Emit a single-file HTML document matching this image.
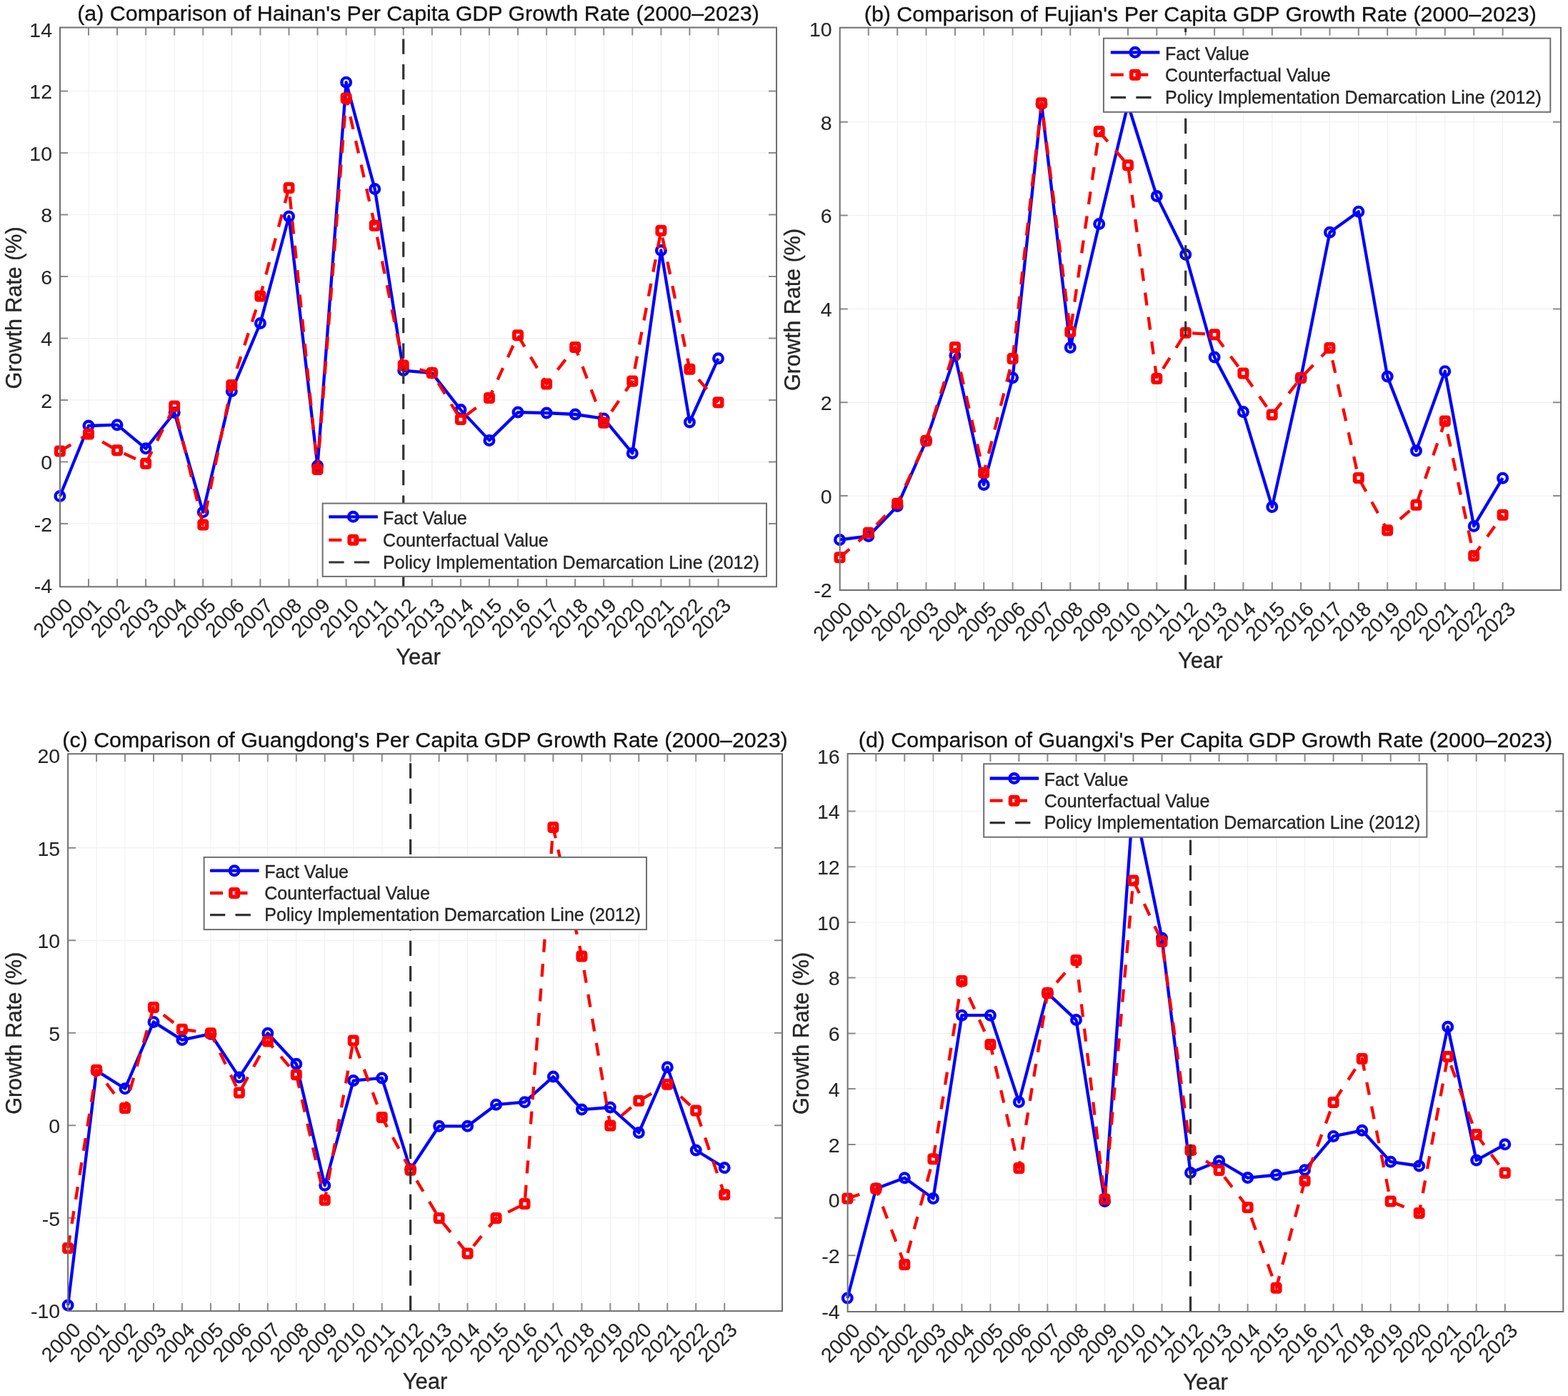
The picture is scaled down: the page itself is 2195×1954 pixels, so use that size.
<!DOCTYPE html>
<html><head><meta charset="utf-8"><title>Per Capita GDP Growth Rate Comparison</title>
<style>html,body{margin:0;padding:0;background:#fff;}svg{display:block;}text{font-family:"Liberation Sans", Arial, Helvetica, sans-serif;stroke:#262626;stroke-width:0.35px;}.tk text{stroke-width:0.1px;font-kerning:none;}</style></head>
<body><svg xmlns="http://www.w3.org/2000/svg" width="2195" height="1954" viewBox="0 0 2195 1954" font-family='"Liberation Sans", Arial, Helvetica, sans-serif'>
<rect width="2195" height="1954" fill="#ffffff"/>
<path d="M124 38.5V821.3M164 38.5V821.3M204.1 38.5V821.3M244.2 38.5V821.3M284.2 38.5V821.3M324.3 38.5V821.3M364.4 38.5V821.3M404.5 38.5V821.3M444.5 38.5V821.3M484.6 38.5V821.3M524.7 38.5V821.3M564.7 38.5V821.3M604.8 38.5V821.3M644.9 38.5V821.3M684.9 38.5V821.3M725 38.5V821.3M765.1 38.5V821.3M805.2 38.5V821.3M845.2 38.5V821.3M885.3 38.5V821.3M925.4 38.5V821.3M965.4 38.5V821.3M1005.5 38.5V821.3M84 732.9H1087M84 646.4H1087M84 559.9H1087M84 473.4H1087M84 386.9H1087M84 300.4H1087M84 213.9H1087M84 127.4H1087" stroke="#eeeeee" stroke-width="1.0" fill="none"/>
<path d="M124 821.3v-11M124 38.5v11M164 821.3v-11M164 38.5v11M204.1 821.3v-11M204.1 38.5v11M244.2 821.3v-11M244.2 38.5v11M284.2 821.3v-11M284.2 38.5v11M324.3 821.3v-11M324.3 38.5v11M364.4 821.3v-11M364.4 38.5v11M404.5 821.3v-11M404.5 38.5v11M444.5 821.3v-11M444.5 38.5v11M484.6 821.3v-11M484.6 38.5v11M524.7 821.3v-11M524.7 38.5v11M564.7 821.3v-11M564.7 38.5v11M604.8 821.3v-11M604.8 38.5v11M644.9 821.3v-11M644.9 38.5v11M684.9 821.3v-11M684.9 38.5v11M725 821.3v-11M725 38.5v11M765.1 821.3v-11M765.1 38.5v11M805.2 821.3v-11M805.2 38.5v11M845.2 821.3v-11M845.2 38.5v11M885.3 821.3v-11M885.3 38.5v11M925.4 821.3v-11M925.4 38.5v11M965.4 821.3v-11M965.4 38.5v11M1005.5 821.3v-11M1005.5 38.5v11M84 732.9h11M1087 732.9h-11M84 646.4h11M1087 646.4h-11M84 559.9h11M1087 559.9h-11M84 473.4h11M1087 473.4h-11M84 386.9h11M1087 386.9h-11M84 300.4h11M1087 300.4h-11M84 213.9h11M1087 213.9h-11M84 127.4h11M1087 127.4h-11" stroke="#8a8a8a" stroke-width="2.0" fill="none"/>
<polyline points="83.9,694.5 124,596 164,594.7 204.1,627.8 244.2,577.5 284.2,716.8 324.3,547.4 364.4,452.5 404.5,303 444.5,652 484.6,115.2 524.7,264.6 564.7,518.6 604.8,522.1 644.9,573.6 684.9,616.4 725,577.1 765.1,578 805.2,580 845.2,585.9 885.3,634.4 925.4,350.5 965.4,590.9 1005.5,501.8" stroke="#0000ff" stroke-width="4.3" fill="none" stroke-linejoin="round"/>
<g stroke="#0000ff" stroke-width="4.4" fill="none"><circle cx="83.9" cy="694.5" r="6.3"/><circle cx="124" cy="596" r="6.3"/><circle cx="164" cy="594.7" r="6.3"/><circle cx="204.1" cy="627.8" r="6.3"/><circle cx="244.2" cy="577.5" r="6.3"/><circle cx="284.2" cy="716.8" r="6.3"/><circle cx="324.3" cy="547.4" r="6.3"/><circle cx="364.4" cy="452.5" r="6.3"/><circle cx="404.5" cy="303" r="6.3"/><circle cx="444.5" cy="652" r="6.3"/><circle cx="484.6" cy="115.2" r="6.3"/><circle cx="524.7" cy="264.6" r="6.3"/><circle cx="564.7" cy="518.6" r="6.3"/><circle cx="604.8" cy="522.1" r="6.3"/><circle cx="644.9" cy="573.6" r="6.3"/><circle cx="684.9" cy="616.4" r="6.3"/><circle cx="725" cy="577.1" r="6.3"/><circle cx="765.1" cy="578" r="6.3"/><circle cx="805.2" cy="580" r="6.3"/><circle cx="845.2" cy="585.9" r="6.3"/><circle cx="885.3" cy="634.4" r="6.3"/><circle cx="925.4" cy="350.5" r="6.3"/><circle cx="965.4" cy="590.9" r="6.3"/><circle cx="1005.5" cy="501.8" r="6.3"/></g>
<polyline points="83.9,631.6 124,607.4 164,630.3 204.1,648.7 244.2,568.6 284.2,734.6 324.3,539.1 364.4,414.6 404.5,262.9 444.5,657 484.6,137.4 524.7,315.8 564.7,511.4 604.8,522 644.9,587.1 684.9,557.1 725,469.3 765.1,537.4 805.2,486 845.2,591.8 885.3,533.5 925.4,322.8 965.4,516.7 1005.5,563.2" stroke="#ff0000" stroke-width="4.3" stroke-dasharray="18,16.5" fill="none" stroke-linejoin="round"/>
<g stroke="#ff0000" stroke-width="5.6" stroke-linejoin="round" fill="none"><rect x="78.7" y="626.4" width="10.4" height="10.4" rx="1.5"/><rect x="118.8" y="602.2" width="10.4" height="10.4" rx="1.5"/><rect x="158.8" y="625.1" width="10.4" height="10.4" rx="1.5"/><rect x="198.9" y="643.5" width="10.4" height="10.4" rx="1.5"/><rect x="239" y="563.4" width="10.4" height="10.4" rx="1.5"/><rect x="279.1" y="729.4" width="10.4" height="10.4" rx="1.5"/><rect x="319.1" y="533.9" width="10.4" height="10.4" rx="1.5"/><rect x="359.2" y="409.4" width="10.4" height="10.4" rx="1.5"/><rect x="399.3" y="257.7" width="10.4" height="10.4" rx="1.5"/><rect x="439.3" y="651.8" width="10.4" height="10.4" rx="1.5"/><rect x="479.4" y="132.2" width="10.4" height="10.4" rx="1.5"/><rect x="519.5" y="310.6" width="10.4" height="10.4" rx="1.5"/><rect x="559.5" y="506.2" width="10.4" height="10.4" rx="1.5"/><rect x="599.6" y="516.8" width="10.4" height="10.4" rx="1.5"/><rect x="639.7" y="581.9" width="10.4" height="10.4" rx="1.5"/><rect x="679.7" y="551.9" width="10.4" height="10.4" rx="1.5"/><rect x="719.8" y="464.1" width="10.4" height="10.4" rx="1.5"/><rect x="759.9" y="532.2" width="10.4" height="10.4" rx="1.5"/><rect x="800" y="480.8" width="10.4" height="10.4" rx="1.5"/><rect x="840" y="586.6" width="10.4" height="10.4" rx="1.5"/><rect x="880.1" y="528.3" width="10.4" height="10.4" rx="1.5"/><rect x="920.2" y="317.6" width="10.4" height="10.4" rx="1.5"/><rect x="960.2" y="511.5" width="10.4" height="10.4" rx="1.5"/><rect x="1000.3" y="558" width="10.4" height="10.4" rx="1.5"/></g>
<path d="M564.7 821.3V38.5" stroke="#333333" stroke-width="3.2" stroke-dasharray="21.3,14.2" fill="none"/>
<rect x="84" y="38.5" width="1003" height="782.8" fill="none" stroke="#6f6f6f" stroke-width="2.0"/>
<g font-size="28.5" text-anchor="end" fill="#262626" class="tk"><text x="73" y="830.2">-4</text><text x="73" y="743.7">-2</text><text x="73" y="657.2">0</text><text x="73" y="570.7">2</text><text x="73" y="484.2">4</text><text x="73" y="397.7">6</text><text x="73" y="311.2">8</text><text x="73" y="224.7">10</text><text x="73" y="138.2">12</text><text x="73" y="51.7">14</text></g>
<g font-size="28.5" text-anchor="end" fill="#262626" class="tk"><text transform="translate(103.4,849.5) rotate(-45)">2000</text><text transform="translate(143.5,849.5) rotate(-45)">2001</text><text transform="translate(183.5,849.5) rotate(-45)">2002</text><text transform="translate(223.6,849.5) rotate(-45)">2003</text><text transform="translate(263.7,849.5) rotate(-45)">2004</text><text transform="translate(303.8,849.5) rotate(-45)">2005</text><text transform="translate(343.8,849.5) rotate(-45)">2006</text><text transform="translate(383.9,849.5) rotate(-45)">2007</text><text transform="translate(424,849.5) rotate(-45)">2008</text><text transform="translate(464,849.5) rotate(-45)">2009</text><text transform="translate(504.1,849.5) rotate(-45)">2010</text><text transform="translate(544.2,849.5) rotate(-45)">2011</text><text transform="translate(584.2,849.5) rotate(-45)">2012</text><text transform="translate(624.3,849.5) rotate(-45)">2013</text><text transform="translate(664.4,849.5) rotate(-45)">2014</text><text transform="translate(704.4,849.5) rotate(-45)">2015</text><text transform="translate(744.5,849.5) rotate(-45)">2016</text><text transform="translate(784.6,849.5) rotate(-45)">2017</text><text transform="translate(824.7,849.5) rotate(-45)">2018</text><text transform="translate(864.7,849.5) rotate(-45)">2019</text><text transform="translate(904.8,849.5) rotate(-45)">2020</text><text transform="translate(944.9,849.5) rotate(-45)">2021</text><text transform="translate(984.9,849.5) rotate(-45)">2022</text><text transform="translate(1025,849.5) rotate(-45)">2023</text></g>
<text x="585.5" y="930.1" font-size="31" text-anchor="middle" fill="#262626">Year</text>
<text transform="translate(30,430.9) rotate(-90)" font-size="30.5" text-anchor="middle" fill="#262626">Growth Rate (%)</text>
<text x="585.5" y="29.4" font-size="30.4" text-anchor="middle" fill="#111111">(a) Comparison of Hainan&#39;s Per Capita GDP Growth Rate (2000–2023)</text>
<rect x="451.6" y="704.6" width="621.4" height="102.3" fill="#ffffff" stroke="#6f6f6f" stroke-width="2.0"/>
<path d="M460.3 723.3H528.9" stroke="#0000ff" stroke-width="4.3"/>
<circle cx="494.4" cy="723.3" r="6.3" stroke="#0000ff" stroke-width="4.4" fill="none"/>
<path d="M460.3 755.8H528.9" stroke="#ff0000" stroke-width="4.3" stroke-dasharray="18,16.5"/>
<rect x="489.2" y="750.6" width="10.4" height="10.4" rx="1.5" stroke="#ff0000" stroke-width="5.6" stroke-linejoin="round" fill="none"/>
<path d="M460.3 787H528.9" stroke="#333333" stroke-width="3.2" stroke-dasharray="21.3,14.2"/>
<g font-size="25" fill="#262626"><text x="536.1" y="733.9">Fact Value</text><text x="536.1" y="765.2">Counterfactual Value</text><text x="536.1" y="795.5">Policy Implementation Demarcation Line (2012)</text></g>
<path d="M1215.8 38.7V826M1256.2 38.7V826M1296.5 38.7V826M1336.9 38.7V826M1377.2 38.7V826M1417.6 38.7V826M1458 38.7V826M1498.3 38.7V826M1538.7 38.7V826M1579 38.7V826M1619.3 38.7V826M1659.7 38.7V826M1700.1 38.7V826M1740.4 38.7V826M1780.8 38.7V826M1821.1 38.7V826M1861.5 38.7V826M1901.8 38.7V826M1942.2 38.7V826M1982.5 38.7V826M2022.8 38.7V826M2063.2 38.7V826M2103.6 38.7V826M1175.7 694.1H2185M1175.7 563.3H2185M1175.7 432.4H2185M1175.7 301.6H2185M1175.7 170.7H2185" stroke="#eeeeee" stroke-width="1.0" fill="none"/>
<path d="M1215.8 826v-11M1215.8 38.7v11M1256.2 826v-11M1256.2 38.7v11M1296.5 826v-11M1296.5 38.7v11M1336.9 826v-11M1336.9 38.7v11M1377.2 826v-11M1377.2 38.7v11M1417.6 826v-11M1417.6 38.7v11M1458 826v-11M1458 38.7v11M1498.3 826v-11M1498.3 38.7v11M1538.7 826v-11M1538.7 38.7v11M1579 826v-11M1579 38.7v11M1619.3 826v-11M1619.3 38.7v11M1659.7 826v-11M1659.7 38.7v11M1700.1 826v-11M1700.1 38.7v11M1740.4 826v-11M1740.4 38.7v11M1780.8 826v-11M1780.8 38.7v11M1821.1 826v-11M1821.1 38.7v11M1861.5 826v-11M1861.5 38.7v11M1901.8 826v-11M1901.8 38.7v11M1942.2 826v-11M1942.2 38.7v11M1982.5 826v-11M1982.5 38.7v11M2022.8 826v-11M2022.8 38.7v11M2063.2 826v-11M2063.2 38.7v11M2103.6 826v-11M2103.6 38.7v11M1175.7 694.1h11M2185 694.1h-11M1175.7 563.3h11M2185 563.3h-11M1175.7 432.4h11M2185 432.4h-11M1175.7 301.6h11M2185 301.6h-11M1175.7 170.7h11M2185 170.7h-11" stroke="#8a8a8a" stroke-width="2.0" fill="none"/>
<polyline points="1175.5,755.5 1215.8,750.4 1256.2,708.4 1296.5,616.9 1336.9,497.4 1377.2,678.5 1417.6,528.7 1458,145.4 1498.3,486.4 1538.7,313.5 1579,146 1619.3,274.6 1659.7,356.3 1700.1,500 1740.4,576.5 1780.8,709.6 1821.1,529 1861.5,325.3 1901.8,296.2 1942.2,527.1 1982.5,631 2022.8,519.7 2063.2,736.4 2103.6,669.2" stroke="#0000ff" stroke-width="4.3" fill="none" stroke-linejoin="round"/>
<g stroke="#0000ff" stroke-width="4.4" fill="none"><circle cx="1175.5" cy="755.5" r="6.3"/><circle cx="1215.8" cy="750.4" r="6.3"/><circle cx="1256.2" cy="708.4" r="6.3"/><circle cx="1296.5" cy="616.9" r="6.3"/><circle cx="1336.9" cy="497.4" r="6.3"/><circle cx="1377.2" cy="678.5" r="6.3"/><circle cx="1417.6" cy="528.7" r="6.3"/><circle cx="1458" cy="145.4" r="6.3"/><circle cx="1498.3" cy="486.4" r="6.3"/><circle cx="1538.7" cy="313.5" r="6.3"/><circle cx="1579" cy="146" r="6.3"/><circle cx="1619.3" cy="274.6" r="6.3"/><circle cx="1659.7" cy="356.3" r="6.3"/><circle cx="1700.1" cy="500" r="6.3"/><circle cx="1740.4" cy="576.5" r="6.3"/><circle cx="1780.8" cy="709.6" r="6.3"/><circle cx="1821.1" cy="529" r="6.3"/><circle cx="1861.5" cy="325.3" r="6.3"/><circle cx="1901.8" cy="296.2" r="6.3"/><circle cx="1942.2" cy="527.1" r="6.3"/><circle cx="1982.5" cy="631" r="6.3"/><circle cx="2022.8" cy="519.7" r="6.3"/><circle cx="2063.2" cy="736.4" r="6.3"/><circle cx="2103.6" cy="669.2" r="6.3"/></g>
<polyline points="1175.5,780.3 1215.8,745.8 1256.2,704.7 1296.5,616.9 1336.9,486.1 1377.2,661.7 1417.6,502.1 1458,144.2 1498.3,464.6 1538.7,184.1 1579,231.2 1619.3,530.1 1659.7,465.7 1700.1,468.3 1740.4,522.4 1780.8,580.4 1821.1,529 1861.5,487 1901.8,669 1942.2,742.3 1982.5,706.7 2022.8,589.5 2063.2,778 2103.6,720.7" stroke="#ff0000" stroke-width="4.3" stroke-dasharray="18,16.5" fill="none" stroke-linejoin="round"/>
<g stroke="#ff0000" stroke-width="5.6" stroke-linejoin="round" fill="none"><rect x="1170.3" y="775.1" width="10.4" height="10.4" rx="1.5"/><rect x="1210.6" y="740.6" width="10.4" height="10.4" rx="1.5"/><rect x="1251" y="699.5" width="10.4" height="10.4" rx="1.5"/><rect x="1291.3" y="611.7" width="10.4" height="10.4" rx="1.5"/><rect x="1331.7" y="480.9" width="10.4" height="10.4" rx="1.5"/><rect x="1372" y="656.5" width="10.4" height="10.4" rx="1.5"/><rect x="1412.4" y="496.9" width="10.4" height="10.4" rx="1.5"/><rect x="1452.8" y="139" width="10.4" height="10.4" rx="1.5"/><rect x="1493.1" y="459.4" width="10.4" height="10.4" rx="1.5"/><rect x="1533.5" y="178.9" width="10.4" height="10.4" rx="1.5"/><rect x="1573.8" y="226" width="10.4" height="10.4" rx="1.5"/><rect x="1614.1" y="524.9" width="10.4" height="10.4" rx="1.5"/><rect x="1654.5" y="460.5" width="10.4" height="10.4" rx="1.5"/><rect x="1694.9" y="463.1" width="10.4" height="10.4" rx="1.5"/><rect x="1735.2" y="517.2" width="10.4" height="10.4" rx="1.5"/><rect x="1775.5" y="575.2" width="10.4" height="10.4" rx="1.5"/><rect x="1815.9" y="523.8" width="10.4" height="10.4" rx="1.5"/><rect x="1856.2" y="481.8" width="10.4" height="10.4" rx="1.5"/><rect x="1896.6" y="663.8" width="10.4" height="10.4" rx="1.5"/><rect x="1937" y="737.1" width="10.4" height="10.4" rx="1.5"/><rect x="1977.3" y="701.5" width="10.4" height="10.4" rx="1.5"/><rect x="2017.6" y="584.3" width="10.4" height="10.4" rx="1.5"/><rect x="2058" y="772.8" width="10.4" height="10.4" rx="1.5"/><rect x="2098.4" y="715.5" width="10.4" height="10.4" rx="1.5"/></g>
<path d="M1659.7 826V38.7" stroke="#333333" stroke-width="3.2" stroke-dasharray="21.3,14.2" fill="none"/>
<rect x="1175.7" y="38.7" width="1009.3" height="787.3" fill="none" stroke="#6f6f6f" stroke-width="2.0"/>
<g font-size="28.5" text-anchor="end" fill="#262626" class="tk"><text x="1164.7" y="835.7">-2</text><text x="1164.7" y="704.9">0</text><text x="1164.7" y="574.1">2</text><text x="1164.7" y="443.2">4</text><text x="1164.7" y="312.4">6</text><text x="1164.7" y="181.5">8</text><text x="1164.7" y="50.7">10</text></g>
<g font-size="28.5" text-anchor="end" fill="#262626" class="tk"><text transform="translate(1195,854.2) rotate(-45)">2000</text><text transform="translate(1235.3,854.2) rotate(-45)">2001</text><text transform="translate(1275.7,854.2) rotate(-45)">2002</text><text transform="translate(1316,854.2) rotate(-45)">2003</text><text transform="translate(1356.4,854.2) rotate(-45)">2004</text><text transform="translate(1396.8,854.2) rotate(-45)">2005</text><text transform="translate(1437.1,854.2) rotate(-45)">2006</text><text transform="translate(1477.5,854.2) rotate(-45)">2007</text><text transform="translate(1517.8,854.2) rotate(-45)">2008</text><text transform="translate(1558.2,854.2) rotate(-45)">2009</text><text transform="translate(1598.5,854.2) rotate(-45)">2010</text><text transform="translate(1638.8,854.2) rotate(-45)">2011</text><text transform="translate(1679.2,854.2) rotate(-45)">2012</text><text transform="translate(1719.6,854.2) rotate(-45)">2013</text><text transform="translate(1759.9,854.2) rotate(-45)">2014</text><text transform="translate(1800.2,854.2) rotate(-45)">2015</text><text transform="translate(1840.6,854.2) rotate(-45)">2016</text><text transform="translate(1881,854.2) rotate(-45)">2017</text><text transform="translate(1921.3,854.2) rotate(-45)">2018</text><text transform="translate(1961.7,854.2) rotate(-45)">2019</text><text transform="translate(2002,854.2) rotate(-45)">2020</text><text transform="translate(2042.3,854.2) rotate(-45)">2021</text><text transform="translate(2082.7,854.2) rotate(-45)">2022</text><text transform="translate(2123.1,854.2) rotate(-45)">2023</text></g>
<text x="1680.3" y="934.8" font-size="31" text-anchor="middle" fill="#262626">Year</text>
<text transform="translate(1120,433.4) rotate(-90)" font-size="30.5" text-anchor="middle" fill="#262626">Growth Rate (%)</text>
<text x="1680.3" y="29.6" font-size="30.4" text-anchor="middle" fill="#111111">(b) Comparison of Fujian&#39;s Per Capita GDP Growth Rate (2000–2023)</text>
<rect x="1544.9" y="53.6" width="625.4" height="103.2" fill="#ffffff" stroke="#6f6f6f" stroke-width="2.0"/>
<path d="M1554.8 73.3H1623.4" stroke="#0000ff" stroke-width="4.3"/>
<circle cx="1588.9" cy="73.3" r="6.3" stroke="#0000ff" stroke-width="4.4" fill="none"/>
<path d="M1554.8 104.7H1623.4" stroke="#ff0000" stroke-width="4.3" stroke-dasharray="18,16.5"/>
<rect x="1583.7" y="99.5" width="10.4" height="10.4" rx="1.5" stroke="#ff0000" stroke-width="5.6" stroke-linejoin="round" fill="none"/>
<path d="M1554.8 136.3H1623.4" stroke="#333333" stroke-width="3.2" stroke-dasharray="21.3,14.2"/>
<g font-size="25" fill="#262626"><text x="1631.1" y="83.9">Fact Value</text><text x="1631.1" y="114.1">Counterfactual Value</text><text x="1631.1" y="144.8">Policy Implementation Demarcation Line (2012)</text></g>
<path d="M135.1 1055.2V1835.1M175 1055.2V1835.1M215 1055.2V1835.1M254.9 1055.2V1835.1M294.9 1055.2V1835.1M334.9 1055.2V1835.1M374.8 1055.2V1835.1M414.8 1055.2V1835.1M454.7 1055.2V1835.1M494.7 1055.2V1835.1M534.7 1055.2V1835.1M574.6 1055.2V1835.1M614.6 1055.2V1835.1M654.5 1055.2V1835.1M694.5 1055.2V1835.1M734.5 1055.2V1835.1M774.4 1055.2V1835.1M814.4 1055.2V1835.1M854.3 1055.2V1835.1M894.3 1055.2V1835.1M934.3 1055.2V1835.1M974.2 1055.2V1835.1M1014.2 1055.2V1835.1M95.1 1704.7H1095M95.1 1575.2H1095M95.1 1445.7H1095M95.1 1316.2H1095M95.1 1186.7H1095" stroke="#eeeeee" stroke-width="1.0" fill="none"/>
<path d="M135.1 1835.1v-11M135.1 1055.2v11M175 1835.1v-11M175 1055.2v11M215 1835.1v-11M215 1055.2v11M254.9 1835.1v-11M254.9 1055.2v11M294.9 1835.1v-11M294.9 1055.2v11M334.9 1835.1v-11M334.9 1055.2v11M374.8 1835.1v-11M374.8 1055.2v11M414.8 1835.1v-11M414.8 1055.2v11M454.7 1835.1v-11M454.7 1055.2v11M494.7 1835.1v-11M494.7 1055.2v11M534.7 1835.1v-11M534.7 1055.2v11M574.6 1835.1v-11M574.6 1055.2v11M614.6 1835.1v-11M614.6 1055.2v11M654.5 1835.1v-11M654.5 1055.2v11M694.5 1835.1v-11M694.5 1055.2v11M734.5 1835.1v-11M734.5 1055.2v11M774.4 1835.1v-11M774.4 1055.2v11M814.4 1835.1v-11M814.4 1055.2v11M854.3 1835.1v-11M854.3 1055.2v11M894.3 1835.1v-11M894.3 1055.2v11M934.3 1835.1v-11M934.3 1055.2v11M974.2 1835.1v-11M974.2 1055.2v11M1014.2 1835.1v-11M1014.2 1055.2v11M95.1 1704.7h11M1095 1704.7h-11M95.1 1575.2h11M1095 1575.2h-11M95.1 1445.7h11M1095 1445.7h-11M95.1 1316.2h11M1095 1316.2h-11M95.1 1186.7h11M1095 1186.7h-11" stroke="#8a8a8a" stroke-width="2.0" fill="none"/>
<polyline points="95.1,1827 135.1,1498.6 175,1523.8 215,1430.4 254.9,1455.6 294.9,1447.2 334.9,1507.9 374.8,1446.3 414.8,1489.3 454.7,1659.2 494.7,1512.6 534.7,1508.9 574.6,1636.8 614.6,1576.3 654.5,1576.3 694.5,1546.2 734.5,1542.7 774.4,1507.1 814.4,1553.1 854.3,1550 894.3,1585.4 934.3,1493.8 974.2,1610 1014.2,1634.6" stroke="#0000ff" stroke-width="4.3" fill="none" stroke-linejoin="round"/>
<g stroke="#0000ff" stroke-width="4.4" fill="none"><circle cx="95.1" cy="1827" r="6.3"/><circle cx="135.1" cy="1498.6" r="6.3"/><circle cx="175" cy="1523.8" r="6.3"/><circle cx="215" cy="1430.4" r="6.3"/><circle cx="254.9" cy="1455.6" r="6.3"/><circle cx="294.9" cy="1447.2" r="6.3"/><circle cx="334.9" cy="1507.9" r="6.3"/><circle cx="374.8" cy="1446.3" r="6.3"/><circle cx="414.8" cy="1489.3" r="6.3"/><circle cx="454.7" cy="1659.2" r="6.3"/><circle cx="494.7" cy="1512.6" r="6.3"/><circle cx="534.7" cy="1508.9" r="6.3"/><circle cx="574.6" cy="1636.8" r="6.3"/><circle cx="614.6" cy="1576.3" r="6.3"/><circle cx="654.5" cy="1576.3" r="6.3"/><circle cx="694.5" cy="1546.2" r="6.3"/><circle cx="734.5" cy="1542.7" r="6.3"/><circle cx="774.4" cy="1507.1" r="6.3"/><circle cx="814.4" cy="1553.1" r="6.3"/><circle cx="854.3" cy="1550" r="6.3"/><circle cx="894.3" cy="1585.4" r="6.3"/><circle cx="934.3" cy="1493.8" r="6.3"/><circle cx="974.2" cy="1610" r="6.3"/><circle cx="1014.2" cy="1634.6" r="6.3"/></g>
<polyline points="95.1,1747 135.1,1497.7 175,1550.9 215,1409.9 254.9,1440.7 294.9,1446.3 334.9,1529.4 374.8,1457.5 414.8,1504.2 454.7,1679.8 494.7,1456.6 534.7,1564 574.6,1637.7 614.6,1704.9 654.5,1754.4 694.5,1704.9 734.5,1685.1 774.4,1158.1 814.4,1338.5 854.3,1575.4 894.3,1540.8 934.3,1517.7 974.2,1554.6 1014.2,1672.3" stroke="#ff0000" stroke-width="4.3" stroke-dasharray="18,16.5" fill="none" stroke-linejoin="round"/>
<g stroke="#ff0000" stroke-width="5.6" stroke-linejoin="round" fill="none"><rect x="89.9" y="1741.8" width="10.4" height="10.4" rx="1.5"/><rect x="129.9" y="1492.5" width="10.4" height="10.4" rx="1.5"/><rect x="169.8" y="1545.7" width="10.4" height="10.4" rx="1.5"/><rect x="209.8" y="1404.7" width="10.4" height="10.4" rx="1.5"/><rect x="249.7" y="1435.5" width="10.4" height="10.4" rx="1.5"/><rect x="289.7" y="1441.1" width="10.4" height="10.4" rx="1.5"/><rect x="329.7" y="1524.2" width="10.4" height="10.4" rx="1.5"/><rect x="369.6" y="1452.3" width="10.4" height="10.4" rx="1.5"/><rect x="409.6" y="1499" width="10.4" height="10.4" rx="1.5"/><rect x="449.5" y="1674.6" width="10.4" height="10.4" rx="1.5"/><rect x="489.5" y="1451.4" width="10.4" height="10.4" rx="1.5"/><rect x="529.5" y="1558.8" width="10.4" height="10.4" rx="1.5"/><rect x="569.4" y="1632.5" width="10.4" height="10.4" rx="1.5"/><rect x="609.4" y="1699.7" width="10.4" height="10.4" rx="1.5"/><rect x="649.3" y="1749.2" width="10.4" height="10.4" rx="1.5"/><rect x="689.3" y="1699.7" width="10.4" height="10.4" rx="1.5"/><rect x="729.3" y="1679.9" width="10.4" height="10.4" rx="1.5"/><rect x="769.2" y="1152.9" width="10.4" height="10.4" rx="1.5"/><rect x="809.2" y="1333.3" width="10.4" height="10.4" rx="1.5"/><rect x="849.1" y="1570.2" width="10.4" height="10.4" rx="1.5"/><rect x="889.1" y="1535.6" width="10.4" height="10.4" rx="1.5"/><rect x="929.1" y="1512.5" width="10.4" height="10.4" rx="1.5"/><rect x="969" y="1549.4" width="10.4" height="10.4" rx="1.5"/><rect x="1009" y="1667.1" width="10.4" height="10.4" rx="1.5"/></g>
<path d="M574.6 1835.1V1055.2" stroke="#333333" stroke-width="3.2" stroke-dasharray="21.3,14.2" fill="none"/>
<rect x="95.1" y="1055.2" width="999.9" height="779.9" fill="none" stroke="#6f6f6f" stroke-width="2.0"/>
<g font-size="28.5" text-anchor="end" fill="#262626" class="tk"><text x="84.1" y="1845">-10</text><text x="84.1" y="1715.5">-5</text><text x="84.1" y="1586">0</text><text x="84.1" y="1456.5">5</text><text x="84.1" y="1327">10</text><text x="84.1" y="1197.5">15</text><text x="84.1" y="1068">20</text></g>
<g font-size="28.5" text-anchor="end" fill="#262626" class="tk"><text transform="translate(114.6,1863.3) rotate(-45)">2000</text><text transform="translate(154.6,1863.3) rotate(-45)">2001</text><text transform="translate(194.5,1863.3) rotate(-45)">2002</text><text transform="translate(234.5,1863.3) rotate(-45)">2003</text><text transform="translate(274.4,1863.3) rotate(-45)">2004</text><text transform="translate(314.4,1863.3) rotate(-45)">2005</text><text transform="translate(354.4,1863.3) rotate(-45)">2006</text><text transform="translate(394.3,1863.3) rotate(-45)">2007</text><text transform="translate(434.3,1863.3) rotate(-45)">2008</text><text transform="translate(474.2,1863.3) rotate(-45)">2009</text><text transform="translate(514.2,1863.3) rotate(-45)">2010</text><text transform="translate(554.2,1863.3) rotate(-45)">2011</text><text transform="translate(594.1,1863.3) rotate(-45)">2012</text><text transform="translate(634.1,1863.3) rotate(-45)">2013</text><text transform="translate(674,1863.3) rotate(-45)">2014</text><text transform="translate(714,1863.3) rotate(-45)">2015</text><text transform="translate(754,1863.3) rotate(-45)">2016</text><text transform="translate(793.9,1863.3) rotate(-45)">2017</text><text transform="translate(833.9,1863.3) rotate(-45)">2018</text><text transform="translate(873.8,1863.3) rotate(-45)">2019</text><text transform="translate(913.8,1863.3) rotate(-45)">2020</text><text transform="translate(953.8,1863.3) rotate(-45)">2021</text><text transform="translate(993.7,1863.3) rotate(-45)">2022</text><text transform="translate(1033.7,1863.3) rotate(-45)">2023</text></g>
<text x="595" y="1943.9" font-size="31" text-anchor="middle" fill="#262626">Year</text>
<text transform="translate(30,1446.2) rotate(-90)" font-size="30.5" text-anchor="middle" fill="#262626">Growth Rate (%)</text>
<text x="595" y="1046.2" font-size="30.4" text-anchor="middle" fill="#111111">(c) Comparison of Guangdong&#39;s Per Capita GDP Growth Rate (2000–2023)</text>
<rect x="285.6" y="1199.9" width="619.4" height="101.2" fill="#ffffff" stroke="#6f6f6f" stroke-width="2.0"/>
<path d="M294 1218.7H362.6" stroke="#0000ff" stroke-width="4.3"/>
<circle cx="328.1" cy="1218.7" r="6.3" stroke="#0000ff" stroke-width="4.4" fill="none"/>
<path d="M294 1250H362.6" stroke="#ff0000" stroke-width="4.3" stroke-dasharray="18,16.5"/>
<rect x="322.9" y="1244.8" width="10.4" height="10.4" rx="1.5" stroke="#ff0000" stroke-width="5.6" stroke-linejoin="round" fill="none"/>
<path d="M294 1280.7H362.6" stroke="#333333" stroke-width="3.2" stroke-dasharray="21.3,14.2"/>
<g font-size="25" fill="#262626"><text x="370.3" y="1229.3">Fact Value</text><text x="370.3" y="1259.4">Counterfactual Value</text><text x="370.3" y="1289.2">Policy Implementation Demarcation Line (2012)</text></g>
<path d="M1226.3 1055V1836M1266.3 1055V1836M1306.4 1055V1836M1346.4 1055V1836M1386.4 1055V1836M1426.4 1055V1836M1466.4 1055V1836M1506.5 1055V1836M1546.5 1055V1836M1586.5 1055V1836M1626.5 1055V1836M1666.5 1055V1836M1706.6 1055V1836M1746.6 1055V1836M1786.6 1055V1836M1826.6 1055V1836M1866.6 1055V1836M1906.7 1055V1836M1946.7 1055V1836M1986.7 1055V1836M2026.7 1055V1836M2066.7 1055V1836M2106.8 1055V1836M1186.6 1757.3H2188.3M1186.6 1679.6H2188.3M1186.6 1601.9H2188.3M1186.6 1524.1H2188.3M1186.6 1446.4H2188.3M1186.6 1368.6H2188.3M1186.6 1290.9H2188.3M1186.6 1213.2H2188.3M1186.6 1135.4H2188.3" stroke="#eeeeee" stroke-width="1.0" fill="none"/>
<path d="M1226.3 1836v-11M1226.3 1055v11M1266.3 1836v-11M1266.3 1055v11M1306.4 1836v-11M1306.4 1055v11M1346.4 1836v-11M1346.4 1055v11M1386.4 1836v-11M1386.4 1055v11M1426.4 1836v-11M1426.4 1055v11M1466.4 1836v-11M1466.4 1055v11M1506.5 1836v-11M1506.5 1055v11M1546.5 1836v-11M1546.5 1055v11M1586.5 1836v-11M1586.5 1055v11M1626.5 1836v-11M1626.5 1055v11M1666.5 1836v-11M1666.5 1055v11M1706.6 1836v-11M1706.6 1055v11M1746.6 1836v-11M1746.6 1055v11M1786.6 1836v-11M1786.6 1055v11M1826.6 1836v-11M1826.6 1055v11M1866.6 1836v-11M1866.6 1055v11M1906.7 1836v-11M1906.7 1055v11M1946.7 1836v-11M1946.7 1055v11M1986.7 1836v-11M1986.7 1055v11M2026.7 1836v-11M2026.7 1055v11M2066.7 1836v-11M2066.7 1055v11M2106.8 1836v-11M2106.8 1055v11M1186.6 1757.3h11M2188.3 1757.3h-11M1186.6 1679.6h11M2188.3 1679.6h-11M1186.6 1601.9h11M2188.3 1601.9h-11M1186.6 1524.1h11M2188.3 1524.1h-11M1186.6 1446.4h11M2188.3 1446.4h-11M1186.6 1368.6h11M2188.3 1368.6h-11M1186.6 1290.9h11M2188.3 1290.9h-11M1186.6 1213.2h11M2188.3 1213.2h-11M1186.6 1135.4h11M2188.3 1135.4h-11" stroke="#8a8a8a" stroke-width="2.0" fill="none"/>
<polyline points="1186.3,1817 1226.3,1663.7 1266.3,1648.7 1306.4,1677.6 1346.4,1421.2 1386.4,1421.2 1426.4,1542.6 1466.4,1390.1 1506.5,1427.6 1546.5,1681.4 1586.5,1118 1626.5,1313 1666.5,1641.4 1706.6,1625 1746.6,1648.6 1786.6,1644.6 1826.6,1637.7 1866.6,1590.4 1906.7,1582.3 1946.7,1626.2 1986.7,1632 2026.7,1437.3 2066.7,1624.1 2106.8,1601.8" stroke="#0000ff" stroke-width="4.3" fill="none" stroke-linejoin="round"/>
<g stroke="#0000ff" stroke-width="4.4" fill="none"><circle cx="1186.3" cy="1817" r="6.3"/><circle cx="1226.3" cy="1663.7" r="6.3"/><circle cx="1266.3" cy="1648.7" r="6.3"/><circle cx="1306.4" cy="1677.6" r="6.3"/><circle cx="1346.4" cy="1421.2" r="6.3"/><circle cx="1386.4" cy="1421.2" r="6.3"/><circle cx="1426.4" cy="1542.6" r="6.3"/><circle cx="1466.4" cy="1390.1" r="6.3"/><circle cx="1506.5" cy="1427.6" r="6.3"/><circle cx="1546.5" cy="1681.4" r="6.3"/><circle cx="1586.5" cy="1118" r="6.3"/><circle cx="1626.5" cy="1313" r="6.3"/><circle cx="1666.5" cy="1641.4" r="6.3"/><circle cx="1706.6" cy="1625" r="6.3"/><circle cx="1746.6" cy="1648.6" r="6.3"/><circle cx="1786.6" cy="1644.6" r="6.3"/><circle cx="1826.6" cy="1637.7" r="6.3"/><circle cx="1866.6" cy="1590.4" r="6.3"/><circle cx="1906.7" cy="1582.3" r="6.3"/><circle cx="1946.7" cy="1626.2" r="6.3"/><circle cx="1986.7" cy="1632" r="6.3"/><circle cx="2026.7" cy="1437.3" r="6.3"/><circle cx="2066.7" cy="1624.1" r="6.3"/><circle cx="2106.8" cy="1601.8" r="6.3"/></g>
<polyline points="1186.3,1677.6 1226.3,1663.7 1266.3,1769.9 1306.4,1622.2 1346.4,1373 1386.4,1461.9 1426.4,1634.9 1466.4,1390 1506.5,1344 1546.5,1678.6 1586.5,1232.4 1626.5,1318 1666.5,1610 1706.6,1637.9 1746.6,1690 1786.6,1802.7 1826.6,1652.7 1866.6,1543.1 1906.7,1481.9 1946.7,1681.6 1986.7,1697.9 2026.7,1479.1 2066.7,1588.1 2106.8,1641.7" stroke="#ff0000" stroke-width="4.3" stroke-dasharray="18,16.5" fill="none" stroke-linejoin="round"/>
<g stroke="#ff0000" stroke-width="5.6" stroke-linejoin="round" fill="none"><rect x="1181.1" y="1672.4" width="10.4" height="10.4" rx="1.5"/><rect x="1221.1" y="1658.5" width="10.4" height="10.4" rx="1.5"/><rect x="1261.1" y="1764.7" width="10.4" height="10.4" rx="1.5"/><rect x="1301.2" y="1617" width="10.4" height="10.4" rx="1.5"/><rect x="1341.2" y="1367.8" width="10.4" height="10.4" rx="1.5"/><rect x="1381.2" y="1456.7" width="10.4" height="10.4" rx="1.5"/><rect x="1421.2" y="1629.7" width="10.4" height="10.4" rx="1.5"/><rect x="1461.2" y="1384.8" width="10.4" height="10.4" rx="1.5"/><rect x="1501.3" y="1338.8" width="10.4" height="10.4" rx="1.5"/><rect x="1541.3" y="1673.4" width="10.4" height="10.4" rx="1.5"/><rect x="1581.3" y="1227.2" width="10.4" height="10.4" rx="1.5"/><rect x="1621.3" y="1312.8" width="10.4" height="10.4" rx="1.5"/><rect x="1661.3" y="1604.8" width="10.4" height="10.4" rx="1.5"/><rect x="1701.4" y="1632.7" width="10.4" height="10.4" rx="1.5"/><rect x="1741.4" y="1684.8" width="10.4" height="10.4" rx="1.5"/><rect x="1781.4" y="1797.5" width="10.4" height="10.4" rx="1.5"/><rect x="1821.4" y="1647.5" width="10.4" height="10.4" rx="1.5"/><rect x="1861.4" y="1537.9" width="10.4" height="10.4" rx="1.5"/><rect x="1901.5" y="1476.7" width="10.4" height="10.4" rx="1.5"/><rect x="1941.5" y="1676.4" width="10.4" height="10.4" rx="1.5"/><rect x="1981.5" y="1692.7" width="10.4" height="10.4" rx="1.5"/><rect x="2021.5" y="1473.9" width="10.4" height="10.4" rx="1.5"/><rect x="2061.5" y="1582.9" width="10.4" height="10.4" rx="1.5"/><rect x="2101.6" y="1636.5" width="10.4" height="10.4" rx="1.5"/></g>
<path d="M1666.5 1836V1055" stroke="#333333" stroke-width="3.2" stroke-dasharray="21.3,14.2" fill="none"/>
<rect x="1186.6" y="1055" width="1001.7" height="781" fill="none" stroke="#6f6f6f" stroke-width="2.0"/>
<g font-size="28.5" text-anchor="end" fill="#262626" class="tk"><text x="1175.6" y="1845.9">-4</text><text x="1175.6" y="1768.1">-2</text><text x="1175.6" y="1690.4">0</text><text x="1175.6" y="1612.7">2</text><text x="1175.6" y="1534.9">4</text><text x="1175.6" y="1457.2">6</text><text x="1175.6" y="1379.4">8</text><text x="1175.6" y="1301.7">10</text><text x="1175.6" y="1224">12</text><text x="1175.6" y="1146.2">14</text><text x="1175.6" y="1068.5">16</text></g>
<g font-size="28.5" text-anchor="end" fill="#262626" class="tk"><text transform="translate(1205.8,1864.2) rotate(-45)">2000</text><text transform="translate(1245.8,1864.2) rotate(-45)">2001</text><text transform="translate(1285.8,1864.2) rotate(-45)">2002</text><text transform="translate(1325.9,1864.2) rotate(-45)">2003</text><text transform="translate(1365.9,1864.2) rotate(-45)">2004</text><text transform="translate(1405.9,1864.2) rotate(-45)">2005</text><text transform="translate(1445.9,1864.2) rotate(-45)">2006</text><text transform="translate(1485.9,1864.2) rotate(-45)">2007</text><text transform="translate(1526,1864.2) rotate(-45)">2008</text><text transform="translate(1566,1864.2) rotate(-45)">2009</text><text transform="translate(1606,1864.2) rotate(-45)">2010</text><text transform="translate(1646,1864.2) rotate(-45)">2011</text><text transform="translate(1686,1864.2) rotate(-45)">2012</text><text transform="translate(1726.1,1864.2) rotate(-45)">2013</text><text transform="translate(1766.1,1864.2) rotate(-45)">2014</text><text transform="translate(1806.1,1864.2) rotate(-45)">2015</text><text transform="translate(1846.1,1864.2) rotate(-45)">2016</text><text transform="translate(1886.1,1864.2) rotate(-45)">2017</text><text transform="translate(1926.2,1864.2) rotate(-45)">2018</text><text transform="translate(1966.2,1864.2) rotate(-45)">2019</text><text transform="translate(2006.2,1864.2) rotate(-45)">2020</text><text transform="translate(2046.2,1864.2) rotate(-45)">2021</text><text transform="translate(2086.2,1864.2) rotate(-45)">2022</text><text transform="translate(2126.3,1864.2) rotate(-45)">2023</text></g>
<text x="1687.5" y="1944.8" font-size="31" text-anchor="middle" fill="#262626">Year</text>
<text transform="translate(1132,1446.5) rotate(-90)" font-size="30.5" text-anchor="middle" fill="#262626">Growth Rate (%)</text>
<text x="1687.5" y="1046.2" font-size="30.4" text-anchor="middle" fill="#111111">(d) Comparison of Guangxi&#39;s Per Capita GDP Growth Rate (2000–2023)</text>
<rect x="1377.2" y="1069.2" width="620.2" height="102.5" fill="#ffffff" stroke="#6f6f6f" stroke-width="2.0"/>
<path d="M1385.6 1089.5H1454.2" stroke="#0000ff" stroke-width="4.3"/>
<circle cx="1419.7" cy="1089.5" r="6.3" stroke="#0000ff" stroke-width="4.4" fill="none"/>
<path d="M1385.6 1120.7H1454.2" stroke="#ff0000" stroke-width="4.3" stroke-dasharray="18,16.5"/>
<rect x="1414.5" y="1115.5" width="10.4" height="10.4" rx="1.5" stroke="#ff0000" stroke-width="5.6" stroke-linejoin="round" fill="none"/>
<path d="M1385.6 1151.7H1454.2" stroke="#333333" stroke-width="3.2" stroke-dasharray="21.3,14.2"/>
<g font-size="25" fill="#262626"><text x="1461.7" y="1100.1">Fact Value</text><text x="1461.7" y="1130.1">Counterfactual Value</text><text x="1461.7" y="1160.2">Policy Implementation Demarcation Line (2012)</text></g>
</svg></body></html>
